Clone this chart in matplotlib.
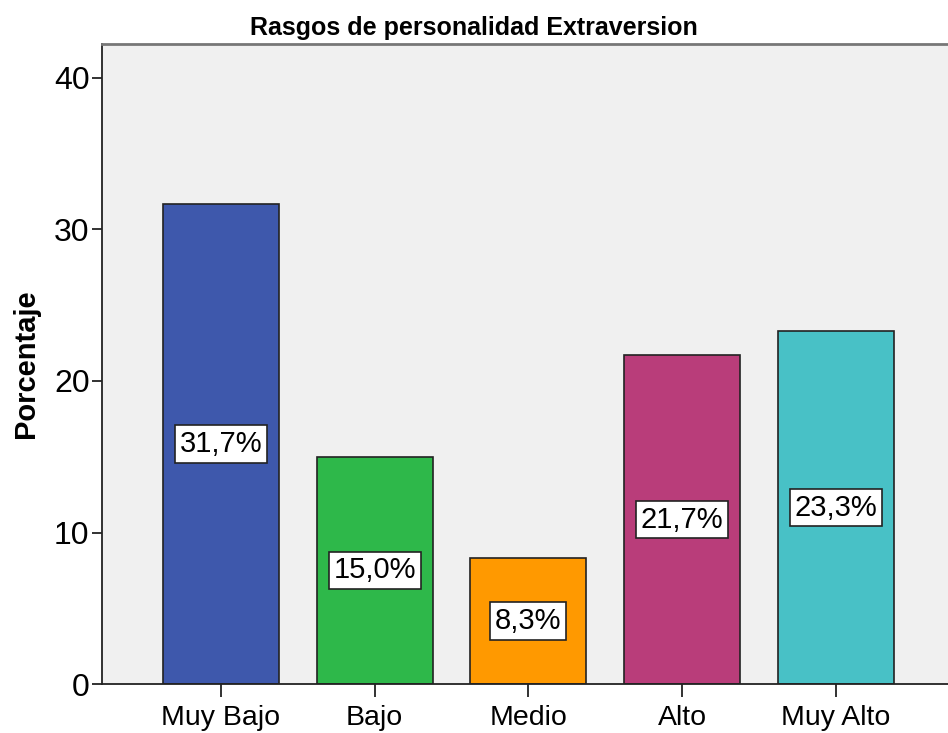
import matplotlib.pyplot as plt

categories = ['Muy Bajo', 'Bajo', 'Medio', 'Alto', 'Muy Alto']
values = [31.7, 15.0, 8.3, 21.7, 23.3]
labels = ['31,7%', '15,0%', '8,3%', '21,7%', '23,3%']
colors = ['#3E58AC', '#2EB84A', '#FF9900', '#B93D7A', '#48C1C6']

plt.rcParams['font.family'] = ['Liberation Sans', 'DejaVu Sans']

fig = plt.figure(figsize=(9.48, 7.33), dpi=100)
ax = fig.add_axes([0.1076, 0.0668, 0.8924, 0.8732])
ax.set_facecolor('#F0F0F0')

x = list(range(len(categories)))
ax.bar(x, values, width=0.755, color=colors, edgecolor='#222222', linewidth=1.2, zorder=2)

for xi, v, lab in zip(x, values, labels):
    ax.text(xi, v / 2, lab, ha='center', va='center', fontsize=21, zorder=3,
            bbox=dict(boxstyle='square,pad=0.16', facecolor='white', edgecolor='#222222', linewidth=1.2))

ax.set_xlim(-0.774, 4.73)
ax.set_ylim(0, 42.24)
ax.set_yticks([0, 10, 20, 30, 40])
ax.set_xticks(x)
ax.set_xticklabels(categories)
ax.tick_params(axis='both', width=1.3, colors='#222222', labelcolor='black')
ax.tick_params(axis='y', length=7, pad=2, labelsize=23)
ax.tick_params(axis='x', length=9, pad=6, labelsize=20.5)

ax.spines['right'].set_visible(False)
ax.spines['top'].set_color('#777777')
ax.spines['top'].set_linewidth(2)
ax.spines['left'].set_color('#222222')
ax.spines['bottom'].set_color('#222222')
ax.spines['left'].set_linewidth(1.3)
ax.spines['bottom'].set_linewidth(1.3)

ax.set_ylabel('Porcentaje', fontsize=21, fontweight='bold', labelpad=10)
fig.text(0.5, 0.962, 'Rasgos de personalidad Extraversion', ha='center', va='center',
         fontsize=18, fontweight='bold')

fig.savefig('out.png', dpi=100)
